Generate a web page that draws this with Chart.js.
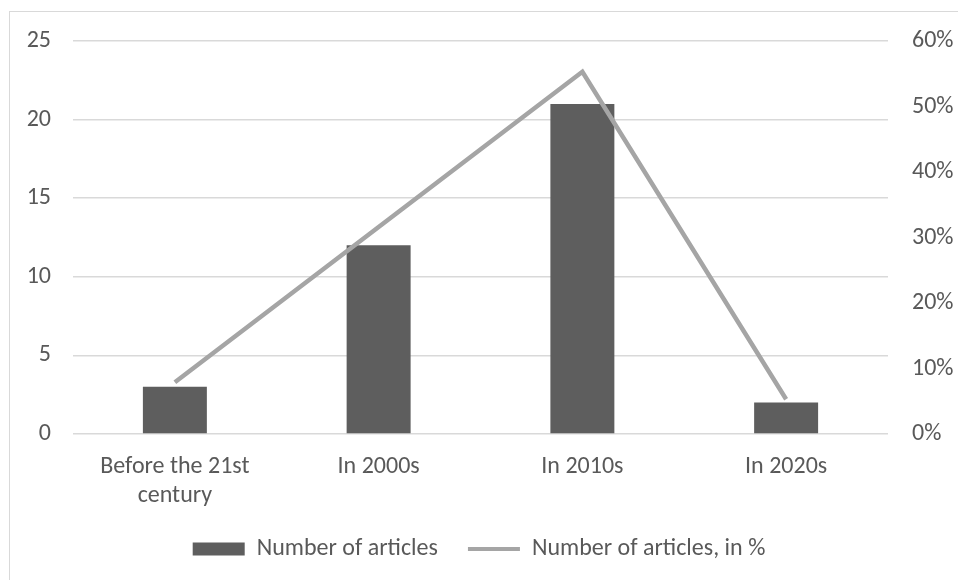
<!DOCTYPE html>
<html>
<head>
<meta charset="utf-8">
<script src="https://cdn.jsdelivr.net/npm/chart.js@4.4.1/dist/chart.umd.min.js"></script>
<style>
    html, body { margin: 0; padding: 0; background: #fff; overflow: hidden; }
    #frame {
        position: absolute; left: 9px; top: 11px; width: 1000px; height: 1000px;
        border-left: 1px solid #d9d9d9; border-top: 1px solid #d9d9d9;
    }
    #chart { position: absolute; left: 0; top: 0; }
</style>
</head>
<body>
<div id="frame"></div>
<canvas id="chart" width="958" height="580"></canvas>
<script>
    // Chart data
    const categories = [['Before the 21st', 'century'], 'In 2000s', 'In 2010s', 'In 2020s'];
    const articleCounts = [3, 12, 21, 2];
    const articleShares = [7.9, 31.6, 55.3, 5.3]; // in %
    const countMax = 25, countStep = 5;
    const shareMax = 60, shareStep = 10;

    const textColor = '#595959';
    const font = { family: "Carlito, 'Liberation Sans Narrow', 'DejaVu Sans Condensed', sans-serif", size: 24 };

    new Chart(document.getElementById('chart'), {
        data: {
            labels: categories,
            datasets: [
                {
                    type: 'bar',
                    label: 'Number of articles',
                    data: articleCounts,
                    backgroundColor: '#5e5e5e',
                    barPercentage: 0.314,
                    categoryPercentage: 1,
                    yAxisID: 'y',
                    order: 1
                },
                {
                    type: 'line',
                    label: 'Number of articles, in %',
                    data: articleShares,
                    borderColor: '#a5a5a5',
                    borderWidth: 4.5,
                    pointRadius: 0,
                    tension: 0,
                    yAxisID: 'y1',
                    order: 0
                }
            ]
        },
        options: {
            responsive: false,
            devicePixelRatio: 1,
            animation: false,
            layout: { padding: { top: 41, left: 0, right: 0, bottom: 9 } },
            plugins: {
                tooltip: { enabled: false },
                legend: {
                    position: 'bottom',
                    labels: {
                        usePointStyle: true,
                        pointStyleWidth: 52,
                        boxHeight: 13,
                        padding: 30,
                        color: textColor,
                        font: font,
                        generateLabels: function(chart) {
                            return [
                                { text: 'Number of articles', fillStyle: '#5e5e5e', strokeStyle: '#5e5e5e',
                                  lineWidth: 0, pointStyle: 'rect', fontColor: textColor, datasetIndex: 0 },
                                { text: 'Number of articles, in %', fillStyle: '#a5a5a5', strokeStyle: '#a5a5a5',
                                  lineWidth: 4, pointStyle: 'line', fontColor: textColor, datasetIndex: 1 }
                            ];
                        }
                    }
                }
            },
            scales: {
                x: {
                    grid: { display: false },
                    border: { display: false },
                    ticks: { color: textColor, font: font, padding: 11, maxRotation: 0, autoSkip: false },
                    afterFit: function(scale) { scale.height = 73; }
                },
                y: {
                    position: 'left',
                    min: 0, max: countMax,
                    ticks: { stepSize: countStep, color: textColor, font: font, padding: 22 },
                    grid: { color: '#d9d9d9', lineWidth: 1.5, drawTicks: false },
                    border: { display: false },
                    afterFit: function(scale) { scale.width = 73; }
                },
                y1: {
                    position: 'right',
                    min: 0, max: shareMax,
                    ticks: {
                        stepSize: shareStep, color: textColor, font: font, padding: 24,
                        callback: function(v) { return v + '%'; }
                    },
                    grid: { display: false, drawTicks: false },
                    border: { display: false },
                    afterFit: function(scale) { scale.width = 70; }
                }
            }
        }
    });
</script>
</body>
</html>
